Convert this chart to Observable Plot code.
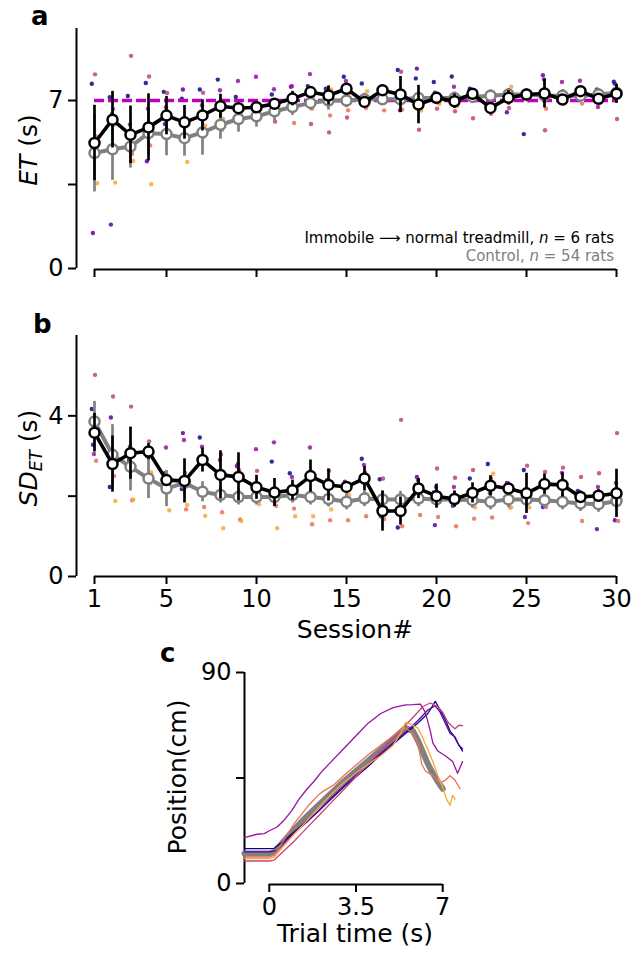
<!DOCTYPE html>
<html><head><meta charset="utf-8">
<script src="https://cdn.jsdelivr.net/npm/d3@7"></script>
<script src="https://cdn.jsdelivr.net/npm/@observablehq/plot@0.6"></script>
<style>
body{margin:0;background:#fff;}
#root{position:relative;width:634px;height:954px;font-family:"DejaVu Sans";}
#root svg{position:absolute;left:0;overflow:visible;}
</style></head><body><div id="root"></div>
<script>
// ---------- data ----------
const sessions = [1,2,3,4,5,6,7,8,9,10,11,12,13,14,15,16,17,18,19,20,21,22,23,24,25,26,27,28,29,30];
const sessionTicks = [1,5,10,15,20,25,30];
const ratNames = ["Rat 1","Rat 2","Rat 3","Rat 4","Rat 5","Rat 6"];

// Panel a: ET (s)
const etTarget = 7;
const etTicks = [0,3.5,7];
const etTickLabels = ["0","","7"];
const etImmobile = [5.23,6.20,5.57,5.88,6.37,6.09,6.38,6.76,6.68,6.72,6.86,7.08,7.35,7.21,7.49,6.94,7.43,7.25,6.83,7.11,6.97,7.28,6.69,7.11,7.25,7.29,7.04,7.39,7.07,7.28];
const etImmobileErr = [1.57,1.18,1.2,1.4,0.8,0.7,0.65,0.5,0.2,0.2,0.15,0.3,0.2,0.4,0.2,0.1,0.1,0.75,0.8,0.1,0.3,0.2,0.15,0.3,0.1,0.6,0.1,0.1,0.15,0.4];
const etControl = [4.81,4.97,5.08,5.64,5.6,5.43,5.67,5.99,6.23,6.34,6.55,6.73,6.9,7.0,7.0,7.05,7.05,7.05,7.1,7.1,7.1,7.15,7.2,7.25,7.25,7.2,7.2,7.2,7.25,7.32];
const etControlErr = [1.62,1.3,0.9,0.9,0.9,0.75,0.95,0.6,0.55,0.45,0.4,0.35,0.3,0.4,0.3,0.25,0.25,0.25,0.25,0.25,0.25,0.25,0.25,0.25,0.25,0.25,0.25,0.25,0.25,0.25];
const etRat1 = [7.70,7.14,7.19,7.73,7.36,7.08,7.46,7.87,7.15,6.8,7.25,7.1,7.60,7.49,7.99,7.71,7.4,8.27,7.92,7.77,8.00,7.49,6.9,7.2,5.60,7.3,7.1,7.4,7.35,7.78];
const etRat2 = [1.48,1.83,5.5,4.47,6.02,7.46,5.81,6.9,6.7,6.51,7.0,7.57,7.3,7.2,7.4,7.0,7.5,7.3,8.33,7.32,7.0,7.45,6.7,6.51,7.3,8.05,7.0,7.3,7.46,7.70];
const etRat3 = [5.04,6.44,6.0,6.66,6.72,6.1,6.80,7.43,7.81,7.99,7.47,7.60,8.10,7.3,7.81,7.1,7.45,6.59,6.8,7.1,7.57,7.3,6.8,7.3,7.4,7.88,7.77,7.82,6.73,7.3];
const etRat4 = [8.09,6.65,8.86,8.0,7.31,6.2,7.32,6.8,6.37,6.17,6.12,6.8,6.02,5.67,6.29,6.8,7.3,8.20,5.78,6.66,6.55,6.26,6.45,6.69,7.1,5.76,7.39,7.3,7.0,6.23];
const etRat5 = [5.5,6.0,4.78,5.13,5.74,5.43,5.50,5.78,6.17,6.6,6.45,6.06,6.66,6.38,6.59,6.69,6.59,6.62,6.7,6.9,6.8,7.0,6.6,7.0,7.0,6.66,6.87,6.87,6.9,7.2];
const etRat6 = [3.55,3.58,4.48,3.51,5.53,4.44,5.95,6.23,6.44,6.31,6.9,7.0,7.2,7.46,7.3,7.39,7.2,7.0,6.58,6.86,6.76,7.1,7.22,7.57,7.2,7.2,7.0,7.3,7.1,7.3];

// Panel b: SD of ET (s)
const sdTicks = [0,2,4];
const sdTickLabels = ["0","","4"];
const sdImmobile = [3.58,2.80,3.07,3.11,2.40,2.38,2.90,2.53,2.48,2.22,2.09,2.15,2.50,2.28,2.23,2.44,1.63,1.63,2.19,2.0,1.93,2.08,2.26,2.19,2.07,2.30,2.28,1.98,2.01,2.07];
const sdImmobileErr = [0.48,0.7,0.65,0.2,0.13,0.55,0.3,0.6,0.6,0.3,0.35,0.25,0.4,0.4,0.1,0.3,0.5,0.35,0.25,0.3,0.2,0.25,0.25,0.1,0.5,0.25,0.3,0.15,0.15,0.6];
const sdControl = [3.86,3.03,2.73,2.44,2.19,2.33,2.11,2.03,1.98,1.98,1.98,2.03,1.98,1.93,1.86,1.94,1.92,1.92,1.94,1.92,1.92,1.9,1.86,1.92,1.92,1.9,1.86,1.82,1.80,1.88];
const sdControlErr = [0.5,0.75,0.6,0.5,0.45,0.3,0.25,0.2,0.2,0.2,0.2,0.2,0.2,0.2,0.2,0.2,0.2,0.2,0.2,0.2,0.2,0.2,0.2,0.2,0.2,0.2,0.2,0.2,0.2,0.2];
const sdRat1 = [4.17,2.23,3.0,3.1,2.4,2.18,3.46,2.5,2.5,2.2,2.86,2.57,2.5,2.3,2.25,2.93,2.42,1.22,2.28,2.09,1.95,2.44,2.8,2.2,2.65,2.3,2.3,2.13,2.0,2.1];
const sdRat2 = [3.28,3.96,2.9,3.0,2.57,3.57,2.9,2.55,2.75,2.08,2.1,2.1,2.5,2.4,2.36,2.5,1.5,1.71,2.48,1.28,1.76,2.1,2.25,2.33,1.48,1.73,1.85,2.0,1.18,1.4];
const sdRat3 = [3.05,3.11,3.23,3.15,3.21,3.4,3.23,2.9,2.8,3.17,3.34,2.48,3.21,2.3,2.25,2.78,1.65,1.6,2.4,2.23,2.23,2.1,2.07,2.32,2.1,2.3,2.58,2.0,2.23,2.33];
const sdRat4 = [5.02,4.48,4.23,3.36,2.4,2.58,2.9,3.04,2.65,2.63,2.1,2.15,2.54,2.63,2.2,2.59,2.44,3.9,2.2,2.69,2.46,2.65,2.44,2.2,2.76,2.6,2.71,2.48,2.57,3.57];
const sdRat5 = [2.88,2.5,1.9,2.33,2.13,1.67,1.73,1.6,1.42,1.93,1.76,1.69,1.3,1.4,1.4,1.5,1.43,1.25,1.53,1.48,1.25,1.44,1.47,1.72,1.33,1.73,1.78,1.38,1.72,1.38];
const sdRat6 = [3.88,1.88,1.92,2.59,1.65,1.78,1.51,1.2,1.38,1.8,1.2,1.5,1.5,1.67,2.03,2.05,1.6,1.6,1.9,1.88,1.95,1.72,2.56,1.72,1.72,2.2,2.2,1.95,2.0,2.0];

// Panel c: position traces [trial time (s), position (cm)]
const posTicks = [0,45,90];
const posTickLabels = ["0","","90"];
const timeTicks = [0,3.5,7];
const timeTickLabels = ["0","3.5","7"];
const traceMean = [[-1,12.8],[0,12.8],[0.2,13.5],[0.5,17],[1,23],[1.5,28.5],[2,33.5],[2.5,38.5],[3,43.5],[3.5,48],[4,52.5],[4.5,57],[5,61.5],[5.3,64.5],[5.5,66.3],[5.8,65],[6,61],[6.2,56],[6.4,51],[6.6,47],[6.8,43.5],[7,40.4]];
const traceRat1 = [[-1,14.9],[0,14.9],[0.2,15],[0.5,17.5],[1,22],[1.5,26.5],[2,31],[2.5,36],[3,41],[3.5,45.5],[4,50],[4.5,55],[5,59.5],[5.5,64],[6,68.5],[6.4,72.5],[6.7,77.7],[6.9,74],[7.1,70],[7.3,65],[7.45,63],[7.6,60],[7.8,56.5]];
const traceRat2 = [[-1,13.5],[0,13.5],[0.3,14],[0.5,16.5],[1,21.5],[1.5,26],[2,31],[2.5,36.5],[3,41.5],[3.5,46.5],[4,51],[4.5,55.5],[5,60],[5.5,64.5],[6,69.5],[6.4,74],[6.7,75.8],[6.9,73],[7.1,68.5],[7.3,64],[7.5,62.5],[7.65,59],[7.8,57.5]];
const traceRat3 = [[-1,19.6],[-0.5,21],[-0.2,21.3],[0,22.5],[0.3,24],[0.6,27],[0.9,31],[1.2,36],[1.5,40],[1.8,43.5],[2.1,47.5],[2.5,52],[3,57.5],[3.5,63],[4,68.5],[4.5,72.5],[5,75],[5.5,76.2],[5.8,76.3],[6.1,76.5],[6.3,73],[6.5,65],[6.6,60],[6.8,56.5],[7.1,54.5],[7.4,52],[7.6,47],[7.8,52]];
const traceRat4 = [[-1,9.6],[0,9.6],[0.2,10],[0.5,13],[1,18],[1.5,23.5],[2,29],[2.5,34.5],[3,40],[3.5,45.5],[4,51],[4.5,56.5],[5,62],[5.5,67.5],[5.9,72],[6.2,75.5],[6.5,77],[6.8,75.5],[7,73],[7.2,69],[7.35,67.3],[7.5,66],[7.65,67.5],[7.8,67.3]];
const traceRat5 = [[-1,11.3],[0,11.3],[0.2,12],[0.5,17],[0.8,22],[1,25.5],[1.3,29.5],[1.6,33.5],[2,38],[2.2,39.5],[2.6,42],[3,46],[3.5,50.5],[4,55],[4.5,59],[5,63],[5.3,65.5],[5.5,66.3],[5.8,64],[6,60],[6.15,51],[6.3,48],[6.6,46],[6.9,43],[7.1,44],[7.3,46],[7.5,44],[7.7,40.4]];
const traceRat6 = [[-1,10.6],[0,10.6],[0.2,11.2],[0.5,15],[1,21],[1.5,26.5],[2,32.5],[2.5,38],[3,43],[3.5,47],[4,51],[4.5,54.5],[5,59],[5.3,64],[5.5,68.7],[5.7,68],[6,66.3],[6.2,62],[6.4,57],[6.6,52],[6.8,46],[7,41],[7.15,36],[7.3,33.3],[7.4,37.6],[7.5,36]];

// ---------- helpers ----------
const FONT = "DejaVu Sans";
const GRAY = "#808080";
const TICK_FS = 24;
const LABEL_FS = 25;
const ratColors = ratNames.map((_, i) => d3.interpolatePlasma(i * 0.16));
const root = document.getElementById("root");

function seriesRows(means, errs) {
  return sessions.map((s, i) => ({session: s, mean: means[i], err: errs[i]}));
}
function ratRows(arrays) {
  return arrays.flatMap((arr, i) => arr.map((v, j) => ({rat: ratNames[i], idx: i, session: sessions[j], value: v})));
}
function labelMap(ticks, labels) { const m = new Map(ticks.map((t, i) => [t, labels[i]])); return d => m.get(d); }

function groupMarks(rows, color, lw) {
  return [
    Plot.ruleX(rows, {x: "session", y1: d => d.mean - d.err, y2: d => d.mean + d.err, stroke: color, strokeWidth: 2.7}),
    Plot.line(rows, {x: "session", y: "mean", stroke: color, strokeWidth: lw, strokeLinejoin: "round"}),
    Plot.dot(rows, {x: "session", y: "mean", r: 5, fill: "white", stroke: color, strokeWidth: 2.5})
  ];
}

function place(svg, top) { svg.style.top = top + "px"; root.appendChild(svg); return d3.select(svg); }

function addText(sel, x, y, str, opts = {}) {
  const t = sel.append("text").attr("x", x).attr("y", y).attr("font-family", FONT)
    .attr("font-size", opts.size || LABEL_FS).attr("fill", opts.fill || "black")
    .attr("text-anchor", opts.anchor || "start");
  if (opts.weight) t.attr("font-weight", opts.weight);
  if (opts.rotate) t.attr("transform", `rotate(-90 ${x} ${y})`);
  if (str) t.text(str);
  return t;
}

// ---------- panel a ----------
const xDomain = [0, 30];
const etDomain = [0, 10];
const dotsA = ratRows([etRat1, etRat2, etRat3, etRat4, etRat5, etRat6]);
const ctrlA = seriesRows(etControl, etControlErr);
const immA = seriesRows(etImmobile, etImmobileErr);

const plotA = Plot.plot({
  width: 634, height: 290, marginLeft: 76, marginRight: 18, marginTop: 28, marginBottom: 22,
  x: {domain: xDomain, axis: null}, y: {domain: etDomain, axis: null},
  color: {domain: ratNames, range: ratColors},
  style: {fontFamily: FONT, fontSize: "24px", background: "transparent", overflow: "visible"},
  marks: [
    Plot.ruleX([xDomain[0]], {y1: etDomain[0], y2: etDomain[1], strokeWidth: 2}),
    Plot.ruleY([etDomain[0]], {x1: sessions[0], x2: sessions[sessions.length - 1], strokeWidth: 2, dy: 1}),
    Plot.axisY(etTicks, {label: null, tickSize: 8, tickPadding: 5, strokeWidth: 2, fontSize: TICK_FS, tickFormat: labelMap(etTicks, etTickLabels)}),
    Plot.axisX(sessionTicks, {label: null, tickSize: 8, strokeWidth: 2, tickFormat: () => "", dy: 1}),
    Plot.dot(dotsA, {x: d => d.session + (d.idx - 2.5) * 0.06, y: "value", r: 2.2, fill: "rat", fillOpacity: 0.85}),
    Plot.ruleY([etTarget], {x1: sessions[0], x2: sessions[sessions.length - 1], stroke: "#bf00bf", strokeWidth: 3.5, strokeDasharray: "10,4"}),
    ...groupMarks(ctrlA, GRAY, 4),
    ...groupMarks(immA, "black", 3.6)
  ]
});
const sa = place(plotA, 0);
addText(sa, 31, 25, "a", {weight: "bold", size: 26});
{
  const t = addText(sa, 37, 150, "", {anchor: "middle", rotate: true});
  t.append("tspan").attr("font-style", "italic").text("ET");
  t.append("tspan").text(" (s)");
}
{
  const t = addText(sa, 614, 243, "", {anchor: "end", size: 15});
  t.append("tspan").text("Immobile \u27F6 normal treadmill, ");
  t.append("tspan").attr("font-style", "italic").text("n");
  t.append("tspan").text(" = 6 rats");
  const t2 = addText(sa, 614, 261, "", {anchor: "end", size: 15, fill: GRAY});
  t2.append("tspan").text("Control, ");
  t2.append("tspan").attr("font-style", "italic").text("n");
  t2.append("tspan").text(" = 54 rats");
}

// ---------- panel b ----------
const sdDomain = [0, 6];
const dotsB = ratRows([sdRat1, sdRat2, sdRat3, sdRat4, sdRat5, sdRat6]);
const ctrlB = seriesRows(sdControl, sdControlErr);
const immB = seriesRows(sdImmobile, sdImmobileErr);

const plotB = Plot.plot({
  width: 634, height: 345, marginLeft: 76, marginRight: 18, marginTop: 35, marginBottom: 69,
  x: {domain: xDomain, axis: null}, y: {domain: sdDomain, axis: null},
  color: {domain: ratNames, range: ratColors},
  style: {fontFamily: FONT, fontSize: "24px", background: "transparent", overflow: "visible"},
  marks: [
    Plot.ruleX([xDomain[0]], {y1: sdDomain[0], y2: sdDomain[1], strokeWidth: 2}),
    Plot.ruleY([sdDomain[0]], {x1: sessions[0], x2: sessions[sessions.length - 1], strokeWidth: 2}),
    Plot.axisY(sdTicks, {label: null, tickSize: 8, tickPadding: 5, strokeWidth: 2, fontSize: TICK_FS, tickFormat: labelMap(sdTicks, sdTickLabels)}),
    Plot.axisX(sessionTicks, {label: null, tickSize: 8, tickPadding: 5, strokeWidth: 2, fontSize: TICK_FS}),
    Plot.dot(dotsB, {x: d => d.session + (d.idx - 2.5) * 0.06, y: "value", r: 2.2, fill: "rat", fillOpacity: 0.85}),
    ...groupMarks(ctrlB, GRAY, 4),
    ...groupMarks(immB, "black", 3.6)
  ]
});
const sb = place(plotB, 300);
addText(sb, 33, 33, "b", {weight: "bold", size: 26});
{
  const t = addText(sb, 37, 158, "", {anchor: "middle", rotate: true});
  t.append("tspan").attr("font-style", "italic").text("SD");
  t.append("tspan").attr("font-style", "italic").attr("font-size", 17).attr("dy", 5).text("ET");
  t.append("tspan").attr("dy", -5).text(" (s)");
}
addText(sb, 355, 338, "Session#", {anchor: "middle"});

// ---------- panel c ----------
const timeDomain = [-1, 8];
const posDomain = [0, 90];
const ratTraces = [traceRat1, traceRat2, traceRat3, traceRat4, traceRat5, traceRat6]
  .flatMap((tr, i) => tr.map(([t, p]) => ({rat: ratNames[i], t, p})));
const meanTrace = traceMean.map(([t, p]) => ({t, p}));

const plotC = Plot.plot({
  width: 634, height: 314, marginLeft: 244, marginRight: 167, marginTop: 32, marginBottom: 71,
  x: {domain: timeDomain, axis: null}, y: {domain: posDomain, axis: null},
  color: {domain: ratNames, range: ratColors},
  style: {fontFamily: FONT, fontSize: "24px", background: "transparent", overflow: "visible"},
  marks: [
    Plot.ruleX([timeDomain[0]], {y1: posDomain[0], y2: posDomain[1], strokeWidth: 2}),
    Plot.ruleY([posDomain[0]], {x1: timeTicks[0], x2: timeTicks[timeTicks.length - 1], strokeWidth: 2, dy: 1}),
    Plot.axisY(posTicks, {label: null, tickSize: 8, tickPadding: 5, strokeWidth: 2, fontSize: TICK_FS, tickFormat: labelMap(posTicks, posTickLabels)}),
    Plot.axisX(timeTicks, {label: null, tickSize: 8, tickPadding: 5, strokeWidth: 2, dy: 1, fontSize: TICK_FS, tickFormat: labelMap(timeTicks, timeTickLabels)}),
    Plot.line(meanTrace, {x: "t", y: "p", stroke: GRAY, strokeWidth: 6, strokeLinejoin: "round"}),
    Plot.line(ratTraces, {x: "t", y: "p", z: "rat", stroke: "rat", strokeWidth: 1.3})
  ]
});
const sc = place(plotC, 640);
addText(sc, 160, 22, "c", {weight: "bold", size: 26});
addText(sc, 186, 137, "Position(cm)", {anchor: "middle", rotate: true});
addText(sc, 355, 302, "Trial time (s)", {anchor: "middle"});
</script></body></html>
